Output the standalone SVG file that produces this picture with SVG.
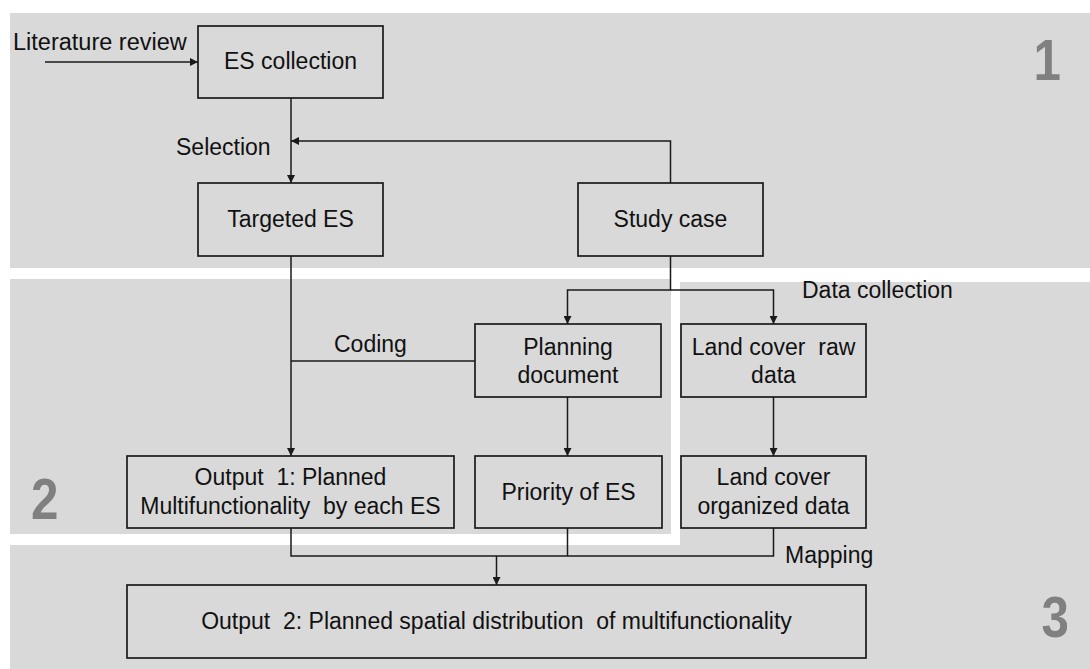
<svg xmlns="http://www.w3.org/2000/svg" width="1090" height="669" viewBox="0 0 1090 669">
  <style>
    .panel { fill: #d9d9d9; }
    .box { fill: #d9d9d9; stroke: #1a1a1a; stroke-width: 1.7; }
    .lbl { font-family: "Liberation Sans", Arial, sans-serif; font-size: 23px; fill: #111; text-anchor: middle; }
    .free { font-family: "Liberation Sans", Arial, sans-serif; font-size: 23px; fill: #111; }
    .num { font-family: "Liberation Sans", Arial, sans-serif; font-weight: bold; font-size: 58px; fill: #808080; }
    .wire { fill: none; stroke: #1a1a1a; stroke-width: 1.5; }
  </style>
  <defs>
    <marker id="arrow" markerUnits="userSpaceOnUse" markerWidth="8" markerHeight="8" refX="8" refY="4" orient="auto">
      <path d="M0,0 L8,4 L0,8 z" fill="#1a1a1a"/>
    </marker>
  </defs>

  <rect width="1090" height="669" fill="#ffffff"/>

  <!-- stage panels -->
  <g id="panels">
    <rect class="panel" x="10" y="13" width="1080" height="255"/>
    <rect class="panel" x="10" y="279" width="661" height="255"/>
    <polygon class="panel" points="680,282 1090,282 1090,669 10,669 10,545 680,545"/>
    <text class="num" transform="translate(1061,80) scale(0.85,1)" text-anchor="end">1</text>
    <text class="num" transform="translate(31,519) scale(0.85,1)">2</text>
    <text class="num" transform="translate(1069,637) scale(0.85,1)" text-anchor="end">3</text>
  </g>

  <!-- connectors -->
  <g id="connectors">
    <path class="wire" d="M45,62 H198" marker-end="url(#arrow)"/>
    <path class="wire" d="M291,98 V183" marker-end="url(#arrow)"/>
    <path class="wire" d="M670.5,183 V141 H291" marker-end="url(#arrow)"/>
    <path class="wire" d="M291,256 V456" marker-end="url(#arrow)"/>
    <path class="wire" d="M475,361 H291"/>
    <path class="wire" d="M670.5,256 V290 H567.5 V324" marker-end="url(#arrow)"/>
    <path class="wire" d="M670.5,290 H773.5 V324" marker-end="url(#arrow)"/>
    <path class="wire" d="M567.5,397 V456" marker-end="url(#arrow)"/>
    <path class="wire" d="M773.5,397 V456" marker-end="url(#arrow)"/>
    <path class="wire" d="M291,528 V556 H773.5 V528"/>
    <path class="wire" d="M567.5,528 V556"/>
    <path class="wire" d="M496.5,556 V585" marker-end="url(#arrow)"/>
  </g>

  <!-- connector labels -->
  <g id="edge-labels">
    <text class="free" x="13" y="50" style="font-size:23.5px">Literature review</text>
    <text class="free" x="176" y="155">Selection</text>
    <text class="free" x="334" y="352">Coding</text>
    <text class="free" x="802" y="298">Data collection</text>
    <text class="free" x="785" y="563">Mapping</text>
  </g>

  <g id="es-collection">
    <rect class="box" x="198" y="26" width="185" height="72"/>
    <text class="lbl" x="290.5" y="69">ES collection</text>
  </g>

  <g id="targeted-es">
    <rect class="box" x="198" y="183" width="185" height="73"/>
    <text class="lbl" x="290.5" y="227">Targeted ES</text>
  </g>

  <g id="study-case">
    <rect class="box" x="578" y="183" width="185" height="73"/>
    <text class="lbl" x="670.5" y="227">Study case</text>
  </g>

  <g id="planning-document">
    <rect class="box" x="475" y="324" width="186" height="73"/>
    <text class="lbl" x="568" y="355">Planning</text>
    <text class="lbl" x="568" y="383">document</text>
  </g>

  <g id="land-cover-raw">
    <rect class="box" x="681" y="324" width="185" height="73"/>
    <text class="lbl" x="773.5" y="355" xml:space="preserve">Land cover  raw</text>
    <text class="lbl" x="773.5" y="383">data</text>
  </g>

  <g id="output-1">
    <rect class="box" x="127" y="456" width="327" height="72"/>
    <text class="lbl" x="290.5" y="485" xml:space="preserve">Output  1: Planned</text>
    <text class="lbl" x="290.5" y="514" xml:space="preserve">Multifunctionality  by each ES</text>
  </g>

  <g id="priority-of-es">
    <rect class="box" x="475" y="456" width="187" height="72"/>
    <text class="lbl" x="568.5" y="500">Priority of ES</text>
  </g>

  <g id="land-cover-organized">
    <rect class="box" x="681" y="456" width="185" height="72"/>
    <text class="lbl" x="773.5" y="485">Land cover</text>
    <text class="lbl" x="773.5" y="514">organized data</text>
  </g>

  <g id="output-2">
    <rect class="box" x="127" y="585" width="739" height="73"/>
    <text class="lbl" x="496.5" y="629" xml:space="preserve">Output  2: Planned spatial distribution  of multifunctionality</text>
  </g>
</svg>
